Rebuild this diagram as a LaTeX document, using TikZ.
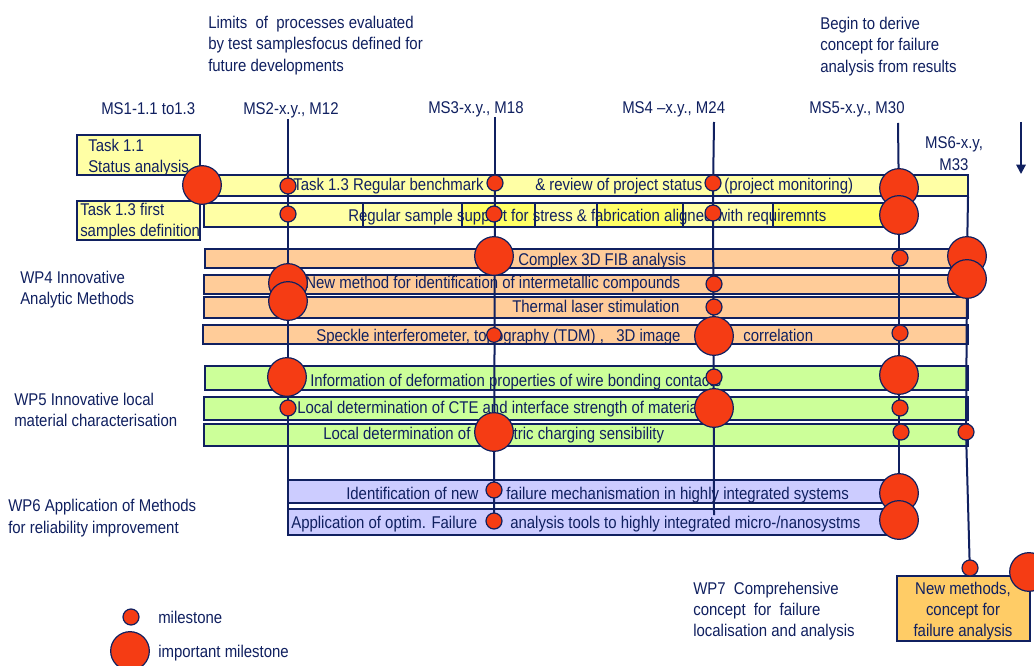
\documentclass[tikz,border=0pt]{standalone}
\usepackage{fontspec}
\setmainfont{Liberation Sans}[FakeStretch=0.88]
\usetikzlibrary{arrows.meta}
\definecolor{navy}{RGB}{16,32,96}
\definecolor{msred}{RGB}{245,60,20}
\definecolor{ylight}{RGB}{255,255,165}
\definecolor{ybright}{RGB}{255,255,102}
\definecolor{orng}{RGB}{255,204,153}
\definecolor{grn}{RGB}{204,255,153}
\definecolor{lav}{RGB}{204,204,255}
\definecolor{gold}{RGB}{255,204,102}
\begin{document}
\begin{tikzpicture}[x=0.75pt,y=-0.75pt,
  txt/.style={font=\fontsize{12.75}{16}\selectfont, text=navy, inner sep=0pt},
  lbl/.style={txt, anchor=base west},
  mlbl/.style={txt, anchor=west, align=left},
  bar/.style={draw=navy, line width=1.1pt},
  sm/.style={circle, fill=msred, draw=navy, line width=0.9pt, minimum size=12pt, inner sep=0pt},
  bg/.style={circle, fill=msred, draw=navy, line width=0.9pt, minimum size=29pt, inner sep=0pt},
  vline/.style={draw=navy, line width=1.5pt},
  arr/.style={vline, -{Triangle[length=7pt,width=7pt]}},
]
\useasboundingbox[fill=white] (0,0) rectangle (1034,666);

% ---------- bars ----------
\path[bar, fill=ylight] (77,135) rectangle (200,175);
\path[bar, fill=ylight] (77,201) rectangle (200,240);
\path[bar, fill=ylight] (200,175) rectangle (968,196);
\path[bar, fill=ylight] (204,203) rectangle (363,227);
\path[bar, fill=ylight] (363,203) rectangle (462,227);
\path[bar, fill=ybright] (462,203) rectangle (535,227);
\path[bar, fill=ylight] (535,203) rectangle (597,227);
\path[bar, fill=ybright] (597,203) rectangle (683,227);
\path[bar, fill=ylight] (683,203) rectangle (773,227);
\path[bar, fill=ybright] (773,203) rectangle (898,227);
\path[bar, fill=orng] (205,249) rectangle (968,268);
\path[bar, fill=orng] (204,275) rectangle (968,294);
\path[bar, fill=orng] (204,297) rectangle (968,318);
\path[bar, fill=orng] (203,325) rectangle (968,344);
\path[bar, fill=grn] (205,366) rectangle (968,390);
\path[bar, fill=grn] (204,397) rectangle (968,420);
\path[bar, fill=grn] (204,424) rectangle (968,446);
\path[bar, fill=lav] (288,480) rectangle (890,503);
\path[bar, fill=lav] (288,509) rectangle (890,535);
\path[bar, fill=gold] (897,576) rectangle (1030,641);

% ---------- texts in bars ----------
\node[mlbl] (t11) at (88,157.5) {Task 1.1\\Status analysis};
\node[mlbl] (t13) at (80,221.5) {Task 1.3 first\\samples definition};
\node[lbl] (r1a) at (293,191) {Task 1.3 Regular benchmark};
\node[lbl] (r1b) at (535,191) {\& review of project status};
\node[lbl] (r1c) at (724,191) {(project monitoring)};
\node[lbl] (r2) at (348,222) {Regular sample support for stress \& fabrication aligned with requiremnts};
\node[lbl] (r3) at (518,266) {Complex 3D FIB analysis};
\node[lbl] (r4) at (305,289) {New method for identification of intermetallic compounds};
\node[lbl] (r5) at (512,313) {Thermal laser stimulation};
\node[lbl] (r6a) at (316,341) {Speckle interferometer, topography (TDM) ,\ \ \ 3D image};
\node[lbl] (r6b) at (743,341) {correlation};
\node[lbl] (r7) at (310,386) {Information of deformation properties of wire bonding contacts};
\node[lbl] (r8) at (297,413) {Local determination of CTE and interface strength of materials};
\node[lbl] (r9) at (323,439) {Local determination of dielectric charging sensibility};
\node[lbl] (r10a) at (346,499) {Identification of new};
\node[lbl] (r10b) at (506,499) {failure mechanismation in highly integrated systems};
\node[lbl] (r11a) at (291,528) {Application of optim. Failure};
\node[lbl] (r11b) at (510,528) {analysis tools to highly integrated micro-/nanosystms};
\node[txt, align=center] (fin) at (963,611) {New methods,\\concept for\\failure analysis};

% ---------- labels ----------
\node[mlbl] (lim) at (208,45.6) {Limits\ \ of\ \ processes evaluated\\by test samplesfocus defined for\\future developments};
\node[mlbl] (beg) at (820,46.6) {Begin to derive\\concept for failure\\analysis from results};
\node[lbl] (ms1) at (101,115) {MS1-1.1 to1.3};
\node[lbl] (ms2) at (243,115) {MS2-x.y., M12};
\node[lbl] (ms3) at (428,114) {MS3-x.y., M18};
\node[lbl] (ms4) at (622,114) {MS4 –x.y., M24};
\node[lbl] (ms5) at (809,113.5) {MS5-x.y., M30};
\node[txt, align=center] (ms6) at (954,153.5) {MS6-x.y,\\M33};
\node[mlbl] (wp4) at (20,289.7) {WP4 Innovative\\Analytic Methods};
\node[mlbl] (wp5) at (14,410) {WP5 Innovative local\\material characterisation};
\node[mlbl] (wp6) at (8,518) {WP6 Application of Methods\\for reliability improvement};
\node[mlbl] (wp7) at (693,611) {WP7\ \ Comprehensive\\concept\ \ for\ \ failure\\localisation and analysis};
\node[lbl] (lg1) at (158,623) {milestone};
\node[lbl] (lg2) at (158,657) {important milestone};

% ---------- milestone positions ----------
\coordinate (c1) at (202,185);
\coordinate (a2) at (288,119);
\coordinate (c2a) at (288,186); \coordinate (c2b) at (288,214);
\coordinate (c2c) at (288,283); \coordinate (c2d) at (288,301);
\coordinate (c2e) at (287,377); \coordinate (c2f) at (288,408);
\coordinate (e2) at (288,535);
\coordinate (a3) at (495,117);
\coordinate (c3a) at (495,183); \coordinate (c3b) at (494,214);
\coordinate (c3c) at (494,256); \coordinate (c3d) at (494,335);
\coordinate (c3e) at (494,432); \coordinate (c3f) at (494,490);
\coordinate (c3g) at (494,521);
\coordinate (a4) at (714,122);
\coordinate (c4a) at (713,183); \coordinate (c4b) at (713,213);
\coordinate (c4c) at (714,284); \coordinate (c4d) at (714,307);
\coordinate (c4e) at (714,336); \coordinate (c4f) at (714,377);
\coordinate (c4g) at (714,408);
\coordinate (e4) at (714,515);
\coordinate (a5) at (898,123);
\coordinate (c5a) at (899,188); \coordinate (c5b) at (899,215);
\coordinate (c5c) at (900,258); \coordinate (c5d) at (900,333);
\coordinate (c5e) at (899,375); \coordinate (c5f) at (900,408);
\coordinate (c5g) at (901,432); \coordinate (c5h) at (899,493);
\coordinate (c5i) at (899,520);
\coordinate (s6) at (968,197);
\coordinate (c6a) at (967,256); \coordinate (c6b) at (967,279);
\coordinate (c6c) at (966,432); \coordinate (c6d) at (970,568);
\coordinate (a7) at (1021,122); \coordinate (e7) at (1021,174);
\coordinate (cx) at (1029,572);

% ---------- lines ----------
\draw[arr] (a2) -- ([yshift=-6pt]c2a);
\draw[vline] (c2a) -- (e2);
\draw[arr] (a3) -- ([yshift=-6pt]c3a);
\draw[vline] (c3a) -- (c3g);
\draw[arr] (a4) -- ([yshift=-6pt]c4a);
\draw[vline] (c4a) -- (e4);
\draw[arr] (a5) -- ([yshift=-14.5pt]c5a);
\draw[vline] (c5a) -- (c5i);
\draw[vline] (s6) -- (c6a) -- (c6b) -- (c6c);
\draw[arr] (c6c) -- ([yshift=-6pt]c6d);
\draw[arr] (a7) -- (e7);

% ---------- milestones ----------
\node[bg] (m1) at (c1) {};
\node[sm] (m2a) at (c2a) {}; \node[sm] (m2b) at (c2b) {};
\node[bg] (m2c) at (c2c) {}; \node[bg] (m2d) at (c2d) {};
\node[bg] (m2e) at (c2e) {}; \node[sm] (m2f) at (c2f) {};
\node[sm] (m3a) at (c3a) {}; \node[sm] (m3b) at (c3b) {};
\node[bg] (m3c) at (c3c) {}; \node[sm, minimum size=11pt] (m3d) at (c3d) {};
\node[bg] (m3e) at (c3e) {}; \node[sm] (m3f) at (c3f) {};
\node[sm] (m3g) at (c3g) {};
\node[sm] (m4a) at (c4a) {}; \node[sm] (m4b) at (c4b) {};
\node[sm] (m4c) at (c4c) {}; \node[sm] (m4d) at (c4d) {};
\node[bg] (m4e) at (c4e) {}; \node[sm] (m4f) at (c4f) {};
\node[bg] (m4g) at (c4g) {};
\node[bg] (m5a) at (c5a) {}; \node[bg] (m5b) at (c5b) {};
\node[sm] (m5c) at (c5c) {}; \node[sm] (m5d) at (c5d) {};
\node[bg] (m5e) at (c5e) {}; \node[sm] (m5f) at (c5f) {};
\node[sm] (m5g) at (c5g) {}; \node[bg] (m5h) at (c5h) {};
\node[bg] (m5i) at (c5i) {};
\node[bg] (m6a) at (c6a) {}; \node[bg] (m6b) at (c6b) {};
\node[sm] (m6c) at (c6c) {}; \node[sm] (m6d) at (c6d) {};
\node[bg] (mx) at (cx) {};
\node[sm] (lgs) at (131,617) {};
\node[bg] (lgb) at (130,651) {};
\end{tikzpicture}
\end{document}
